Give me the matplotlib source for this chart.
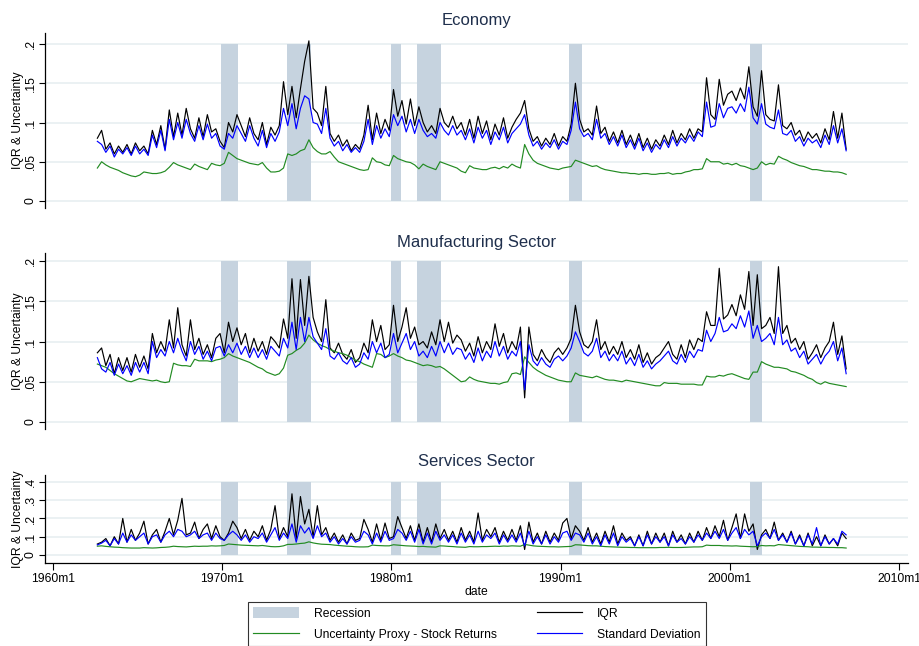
import numpy as np
import pandas as pd
import matplotlib
matplotlib.use("Agg")
import matplotlib.pyplot as plt
from matplotlib.patches import Patch
from matplotlib.lines import Line2D

plt.rcParams['font.family'] = ['Liberation Sans', 'DejaVu Sans']

quarters = pd.period_range('1962Q3', '2006Q4', freq='Q')

rec_start = ['1969-12', '1973-11', '1980-01', '1981-07', '1990-07', '2001-03']
rec_end = ['1970-11', '1975-03', '1980-07', '1982-11', '1991-03', '2001-11']

xtick_years = [1960, 1970, 1980, 1990, 2000, 2010]
xtick_labels = ['1960m1', '1970m1', '1980m1', '1990m1', '2000m1', '2010m1']

econ_iqr = [
    80, 90,
    66, 74, 60, 70, 62, 72, 60, 74,
    64, 70, 60, 90, 72, 96, 66, 116,
    82, 112, 84, 118, 92, 80, 106, 82,
    110, 88, 92, 76, 68, 100, 88, 110,
    96, 82, 106, 86, 78, 100, 72, 94,
    84, 96, 152, 110, 146, 106, 143, 178,
    204, 118, 112, 96, 146, 86, 76, 84,
    70, 78, 64, 72, 66, 84, 122, 78,
    112, 86, 104, 90, 142, 108, 128, 98,
    130, 96, 120, 100, 88, 96, 86, 118,
    100, 94, 108, 92, 100, 84, 104, 80,
    108, 86, 102, 78, 98, 84, 106, 80,
    94, 104, 112, 128, 92, 76, 82, 70,
    80, 72, 86, 70, 82, 76, 98, 150,
    104, 88, 92, 84, 121, 86, 94, 76,
    88, 74, 90, 72, 84, 70, 86, 68,
    80, 66, 78, 70, 84, 72, 90, 74,
    86, 78, 92, 80, 92, 88, 157, 110,
    104, 155, 122, 136, 140, 128, 144, 130,
    171, 120, 108, 166, 110, 104, 102, 148,
    96, 92, 100, 84, 90, 76, 88, 80,
    86, 74, 92, 78, 114, 80, 112, 66,
]
econ_sd = [
    76, 72,
    62, 70, 56, 66, 60, 68, 58, 70,
    60, 66, 58, 84, 68, 90, 64, 104,
    78, 100, 80, 104, 86, 76, 96, 78,
    98, 80, 86, 70, 66, 86, 80, 96,
    86, 76, 96, 80, 70, 90, 68, 86,
    76, 88, 118, 96, 124, 92, 118, 134,
    130, 100, 98, 86, 118, 80, 70, 76,
    64, 72, 62, 68, 62, 76, 104, 72,
    96, 80, 92, 82, 110, 96, 108, 88,
    104, 86, 104, 90, 82, 86, 80, 100,
    90, 84, 96, 84, 90, 78, 92, 74,
    94, 80, 90, 72, 88, 78, 94, 74,
    86, 92, 98, 110, 84, 70, 76, 66,
    74, 68, 78, 66, 76, 72, 90, 126,
    92, 82, 86, 78, 104, 80, 86, 72,
    82, 70, 84, 68, 78, 66, 80, 64,
    74, 62, 72, 66, 78, 68, 82, 70,
    80, 74, 84, 76, 88, 82, 126, 94,
    96, 124, 106, 118, 120, 112, 124, 114,
    145, 106, 98, 124, 98, 94, 92, 116,
    86, 84, 90, 76, 82, 70, 80, 74,
    78, 68, 84, 72, 96, 74, 92, 64,
]
econ_proxy = [
    42, 50,
    46, 43, 41, 39, 36, 34, 32, 31,
    33, 37, 36, 35, 35, 36, 38, 43,
    49, 46, 44, 42, 40, 47, 44, 42,
    40, 48, 46, 45, 48, 62, 58, 54,
    52, 50, 48, 47, 46, 49, 42, 37,
    37, 38, 42, 60, 58, 60, 64, 66,
    78, 68, 63, 60, 60, 63, 56, 50,
    48, 46, 44, 42, 40, 39, 40, 55,
    50, 49, 46, 45, 58, 54, 52, 50,
    49, 46, 41, 47, 44, 42, 40, 50,
    48, 46, 44, 42, 38, 36, 45, 42,
    41, 40, 40, 42, 43, 41, 44, 42,
    47, 44, 42, 72, 60, 52, 48, 46,
    44, 42, 41, 40, 42, 43, 44, 52,
    50, 48, 46, 44, 45, 42, 40, 39,
    38, 37, 36, 36, 35, 35, 34, 35,
    35, 34, 34, 35, 35, 36, 34, 35,
    35, 37, 38, 40, 40, 41, 54, 50,
    50, 50, 47, 48, 46, 48, 45, 44,
    42, 40, 42, 50, 46, 48, 47, 57,
    54, 52, 49, 47, 45, 44, 42, 40,
    40, 39, 38, 38, 37, 37, 36, 34,
]

mfg_iqr = [
    86, 92,
    70, 84, 60, 80, 64, 80, 62, 84,
    68, 82, 66, 110, 86, 100, 88, 127,
    92, 142, 96, 82, 127, 90, 104, 84,
    96, 80, 104, 110, 86, 124, 100, 117,
    96, 110, 86, 104, 88, 100, 84, 106,
    100, 92, 128, 104, 178, 104, 177, 120,
    181, 130, 112, 100, 152, 92, 86, 98,
    84, 78, 90, 74, 80, 98, 86, 127,
    100, 120, 90, 96, 145, 100, 118, 142,
    104, 118, 96, 100, 92, 112, 96, 127,
    100, 124, 98, 108, 102, 88, 98, 82,
    106, 86, 100, 90, 122, 94, 110, 86,
    100, 90, 118, 30, 118, 84, 76, 90,
    80, 74, 86, 92, 84, 92, 104, 145,
    112, 96, 92, 100, 127, 90, 100, 84,
    94, 84, 100, 80, 90, 78, 96, 74,
    86, 72, 80, 84, 92, 100, 84, 78,
    96, 80, 102, 90, 104, 100, 137, 120,
    120, 191, 128, 133, 146, 132, 158, 140,
    187, 120, 183, 116, 120, 130, 110, 193,
    110, 120, 98, 104, 90, 100, 78, 86,
    96, 80, 92, 100, 124, 84, 107, 66,
]
mfg_sd = [
    80, 66,
    62, 74, 58, 72, 60, 70, 58, 74,
    62, 74, 60, 100, 80, 90, 82, 100,
    86, 104, 88, 76, 100, 84, 94, 78,
    88, 76, 92, 94, 82, 96, 86, 98,
    84, 94, 80, 92, 80, 90, 78, 94,
    88, 82, 104, 92, 124, 90, 130, 100,
    130, 106, 98, 90, 116, 82, 78, 86,
    76, 72, 80, 68, 72, 86, 78, 100,
    86, 98, 80, 84, 110, 86, 98, 110,
    90, 100, 82, 88, 80, 94, 82, 100,
    86, 98, 84, 92, 90, 78, 86, 74,
    92, 76, 88, 80, 100, 82, 94, 78,
    88, 82, 100, 40, 96, 76, 70, 80,
    72, 68, 78, 82, 76, 82, 92, 112,
    100, 86, 82, 88, 104, 80, 88, 76,
    84, 76, 88, 72, 80, 70, 84, 68,
    76, 66, 72, 76, 82, 88, 76, 72,
    84, 74, 88, 80, 90, 88, 114, 100,
    110, 130, 112, 114, 122, 116, 132, 118,
    138, 104, 120, 100, 104, 110, 96, 130,
    96, 102, 88, 92, 80, 88, 72, 78,
    84, 72, 82, 88, 100, 76, 92, 60,
]
mfg_proxy = [
    72, 70,
    68, 64, 60, 57, 54, 51, 50, 52,
    54, 53, 52, 51, 52, 50, 49, 50,
    73, 71, 70, 70, 69, 78, 76, 76,
    76, 75, 77, 78, 80, 85, 82, 80,
    78, 76, 74, 71, 68, 66, 62, 60,
    58, 60, 67, 83, 85, 89, 92, 98,
    108, 102, 98, 95, 93, 90, 88, 86,
    85, 83, 80, 77, 75, 72, 70, 68,
    85, 84, 80, 82, 85, 82, 80, 77,
    76, 74, 72, 70, 71, 70, 68, 69,
    66, 62, 58, 54, 50, 51, 56, 53,
    51, 50, 49, 48, 48, 47, 49, 50,
    60, 61, 59, 81, 74, 68, 64, 61,
    58, 56, 54, 52, 51, 50, 50, 61,
    58, 57, 56, 55, 57, 55, 53, 52,
    52, 51, 50, 52, 51, 50, 49, 48,
    47, 46, 45, 45, 49, 48, 48, 48,
    47, 47, 47, 47, 46, 46, 57, 56,
    56, 58, 57, 59, 60, 58, 56, 54,
    53, 62, 62, 75, 72, 70, 68, 68,
    67, 66, 63, 62, 60, 58, 55, 53,
    49, 47, 50, 48, 47, 46, 45, 44,
]

svc_iqr = [
    60, 70,
    90, 50, 100, 60, 200, 70, 140, 80,
    120, 185, 60, 110, 140, 70, 130, 200,
    110, 190, 310, 110, 120, 180, 90, 140,
    170, 90, 160, 100, 80, 120, 185, 150,
    90, 140, 80, 130, 100, 160, 80, 140,
    270, 90, 150, 100, 335, 90, 320, 170,
    250, 100, 270, 110, 150, 80, 120, 70,
    110, 60, 120, 80, 90, 195, 140, 70,
    170, 80, 175, 90, 100, 210, 150, 90,
    160, 80, 170, 70, 150, 70, 170, 90,
    140, 80, 130, 70, 150, 80, 130, 70,
    230, 80, 140, 100, 150, 70, 130, 80,
    140, 80, 160, 30, 180, 70, 120, 60,
    130, 70, 120, 80, 175, 200, 90, 160,
    130, 80, 150, 70, 120, 60, 130, 70,
    160, 60, 120, 80, 100, 50, 110, 50,
    130, 60, 120, 70, 120, 50, 130, 70,
    110, 60, 120, 70, 130, 80, 150, 90,
    160, 100, 190, 80, 150, 225, 90, 225,
    130, 170, 30, 110, 140, 90, 180, 80,
    120, 70, 130, 60, 110, 50, 120, 50,
    100, 50, 110, 60, 90, 50, 120, 90,
]
svc_sd = [
    55, 65,
    80, 50, 90, 60, 120, 70, 110, 80,
    100, 120, 60, 100, 110, 70, 110, 130,
    100, 140, 130, 100, 110, 130, 90, 110,
    120, 80, 120, 90, 80, 110, 130, 110,
    80, 110, 70, 100, 90, 120, 70, 110,
    150, 80, 120, 90, 170, 70, 160, 120,
    150, 90, 160, 100, 120, 70, 100, 60,
    90, 60, 100, 70, 80, 130, 110, 60,
    120, 70, 130, 80, 90, 140, 120, 80,
    130, 70, 140, 60, 120, 60, 130, 80,
    110, 70, 110, 60, 120, 70, 110, 60,
    130, 70, 110, 90, 120, 60, 110, 70,
    110, 70, 120, 50, 130, 60, 100, 60,
    110, 60, 100, 70, 120, 130, 80, 120,
    110, 70, 120, 60, 100, 50, 110, 60,
    120, 50, 100, 70, 90, 50, 100, 50,
    110, 60, 100, 70, 100, 50, 110, 70,
    90, 60, 100, 70, 110, 80, 120, 90,
    130, 90, 140, 80, 120, 150, 90, 140,
    110, 130, 50, 100, 120, 90, 140, 80,
    110, 70, 120, 60, 100, 50, 110, 60,
    150, 50, 100, 60, 90, 60, 130, 110,
]
svc_proxy = [
    48, 50,
    47, 45, 43, 42, 40, 39, 38, 38,
    38, 40, 39, 38, 39, 41, 42, 44,
    48, 46, 45, 44, 46, 48, 47, 48,
    48, 50, 49, 50, 52, 60, 58, 56,
    54, 53, 52, 51, 50, 52, 49, 46,
    45, 46, 50, 58, 58, 60, 63, 65,
    72, 66, 62, 59, 58, 57, 54, 52,
    50, 48, 47, 45, 44, 44, 45, 54,
    52, 51, 50, 50, 56, 54, 52, 50,
    49, 48, 46, 47, 45, 44, 43, 50,
    49, 47, 46, 44, 43, 42, 46, 45,
    45, 46, 46, 47, 48, 47, 49, 48,
    50, 49, 48, 58, 54, 50, 48, 47,
    46, 45, 45, 44, 45, 46, 47, 56,
    55, 53, 51, 50, 50, 48, 46, 45,
    44, 43, 42, 42, 41, 41, 40, 40,
    40, 40, 40, 41, 41, 42, 41, 41,
    41, 42, 43, 44, 44, 45, 54, 52,
    52, 52, 50, 50, 49, 50, 48, 47,
    46, 45, 46, 52, 50, 51, 50, 57,
    55, 53, 51, 49, 47, 46, 45, 43,
    43, 42, 42, 41, 41, 40, 40, 38,
]

REC_COLOR = '#c6d3df'
GRID_COLOR = '#e9f0f2'
TITLE_COLOR = '#1f2f4c'
FS = 8.7


def month_to_year(s, end=False):
    p = pd.Period(s, freq='M')
    return p.year + (p.month - (0 if end else 1)) / 12.0


def draw_panel(ax, title, iqr, sd, proxy, ticks, ticklabels, ylim, rec_top, bottom_axis=False):
    x = quarters.year + (quarters.quarter - 1) / 4.0 + 0.125
    assert len(iqr) == len(sd) == len(proxy) == len(x)
    for s, e in zip(rec_start, rec_end):
        ax.fill_between([month_to_year(s), month_to_year(e, end=True)], 0, rec_top,
                        color=REC_COLOR, lw=0, zorder=1)
    ax.plot(x, np.array(iqr) / 1000, color='black', lw=0.85, zorder=3)
    ax.plot(x, np.array(proxy) / 1000, color='#228b22', lw=0.85, zorder=3)
    ax.plot(x, np.array(sd) / 1000, color='#0000ff', lw=0.85, zorder=4)

    ax.set_xlim(1959.53, 2010.53)
    ax.set_ylim(*ylim)
    ax.set_yticks(ticks)
    ax.set_yticklabels(ticklabels)
    plt.setp(ax.get_yticklabels(), rotation=90, va='center')
    ax.tick_params(axis='y', length=4, width=0.8, pad=2, labelsize=FS)
    ax.grid(axis='y', color=GRID_COLOR, lw=1.3, zorder=0)
    ax.set_axisbelow(True)
    ax.set_ylabel('IQR & Uncertainty', fontsize=FS, va='center')
    ax.yaxis.set_label_coords(-0.031, 0.5)
    for side in ['top', 'right']:
        ax.spines[side].set_visible(False)
    ax.spines['left'].set_linewidth(0.9)
    if bottom_axis:
        ax.spines['bottom'].set_linewidth(0.9)
        ax.set_xticks(xtick_years)
        ax.set_xticklabels(xtick_labels)
        ax.tick_params(axis='x', length=5, width=0.8, pad=2, labelsize=FS)
        ax.set_xlabel('date', fontsize=FS, labelpad=1)
    else:
        ax.spines['bottom'].set_visible(False)
        ax.set_xticks([])


W, H = 920, 646
fig = plt.figure(figsize=(W / 100, H / 100), dpi=100)

# panel boxes in pixels: top, bottom
boxes = [(33, 208), (253, 429), (475, 563)]
titles = ['Economy', 'Manufacturing Sector', 'Services Sector']
title_y = [20, 242, 462]
axes = []
for top, bot in boxes:
    axes.append(fig.add_axes([45 / W, (H - bot) / H, 863 / W, (bot - top) / H]))

t1 = [0, .05, .1, .15, .2]
l1 = ['0', '.05', '.1', '.15', '.2']
t3 = [0, .1, .2, .3, .4]
l3 = ['0', '.1', '.2', '.3', '.4']

draw_panel(axes[0], titles[0], econ_iqr, econ_sd, econ_proxy, t1, l1, (-0.0089, 0.214), 0.2)
draw_panel(axes[1], titles[1], mfg_iqr, mfg_sd, mfg_proxy, t1, l1, (-0.0087, 0.210), 0.2)
draw_panel(axes[2], titles[2], svc_iqr, svc_sd, svc_proxy, t3, l3, (-0.044, 0.438), 0.4, bottom_axis=True)

for name, ty in zip(titles, title_y):
    fig.text(476.5 / W, 1 - ty / H, name, ha='center', va='center', fontsize=12, color=TITLE_COLOR)

handles = [Patch(facecolor=REC_COLOR, edgecolor='none'),
           Line2D([], [], color='#228b22', lw=0.85),
           Line2D([], [], color='black', lw=0.85),
           Line2D([], [], color='#0000ff', lw=0.85)]
labels = ['Recession', 'Uncertainty Proxy - Stock Returns', 'IQR', 'Standard Deviation']
leg = fig.legend(handles, labels, loc='upper left', bbox_to_anchor=(248 / W, 1 - 602 / H),
                 ncol=2, fontsize=FS, frameon=True, fancybox=False, edgecolor='black',
                 borderaxespad=0, borderpad=0.45, handlelength=3.75, handleheight=1.0,
                 handletextpad=1.25, columnspacing=3.3, labelspacing=0.7)
leg.get_frame().set_linewidth(0.8)

fig.savefig('out.png', dpi=100)
